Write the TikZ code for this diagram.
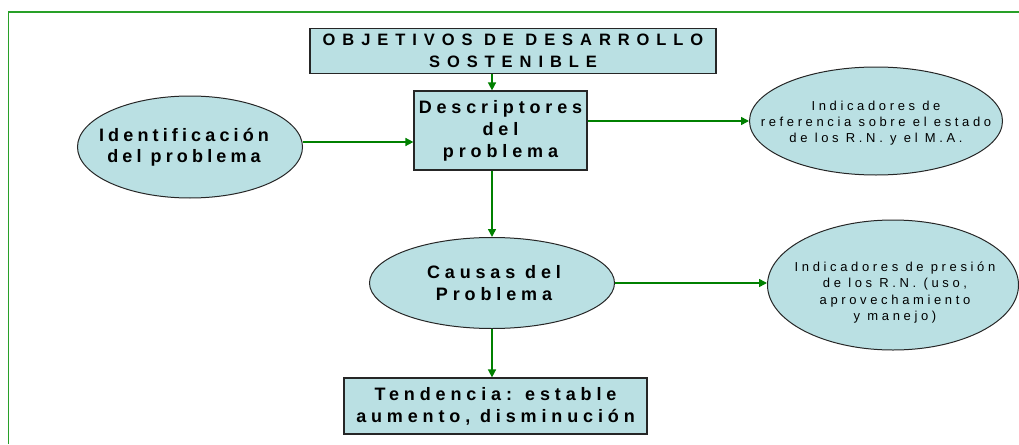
\documentclass[tikz,border=0pt]{standalone}
\usepackage{fontspec}
\setmainfont{Liberation Sans}
\newfontface\bsp[LetterSpace=27]{Liberation Sans Bold}
\newfontface\isp[LetterSpace=23]{Liberation Sans Bold}
\newfontface\tsp[LetterSpace=42]{Liberation Sans Bold}
\newfontface\rsp[LetterSpace=28]{Liberation Sans}
\usetikzlibrary{arrows.meta,shapes.geometric}
\definecolor{boxfill}{RGB}{186,224,227}
\definecolor{arrgreen}{RGB}{0,128,0}
\definecolor{framegreen}{RGB}{40,160,40}
\begin{document}
\begin{tikzpicture}[x=1pt,y=-1pt,
  box/.style={draw=black!85,line width=1.2pt,fill=boxfill,rectangle,inner sep=0pt},
  ell/.style={draw=black!85,line width=1pt,fill=boxfill,ellipse,inner sep=0pt},
  btxt/.style={align=center,font=\bsp\fontsize{18pt}{22pt}\selectfont,inner sep=0pt},
  itxt/.style={align=center,font=\isp\fontsize{18pt}{21.5pt}\selectfont,inner sep=0pt},
  ttxt/.style={align=center,font=\tsp\fontsize{16.5pt}{22pt}\selectfont,inner sep=0pt},
  rtxt/.style={align=center,font=\rsp\fontsize{13pt}{16.3pt}\selectfont,inner sep=0pt},
  arr/.style={draw=arrgreen,line width=1.5pt,-{Triangle[length=8pt,width=8pt]}}]
\useasboundingbox (0,0) rectangle (1019,444);
\draw[framegreen,line width=1.5pt] (8.5,444) -- (8.5,12) -- (1019,12);

\node[box,minimum width=406pt,minimum height=45pt,ttxt] (top) at (513,51)
  {OBJETIVOS DE DESARROLLO\\SOSTENIBLE};
\node[box,minimum width=173pt,minimum height=79pt,btxt] (desc) at (500.5,130.5)
  {Descriptores\\del\\problema};
\node[box,minimum width=303pt,minimum height=56pt,btxt] (tend) at (495.5,406)
  {Tendencia: estable\\aumento, disminución};

\node[ell,minimum width=225pt,minimum height=102pt] (ident) at (190,147) {};
\node[itxt] (identt) at (184,147.5) {Identificación\\del problema};

\node[ell,minimum width=253pt,minimum height=108pt] (e1) at (876,121) {};
\node[rtxt] (e1t) at (876,123) {Indicadores de\\referencia sobre el estado\\de los R.N. y el M.A.};

\node[ell,minimum width=245pt,minimum height=91pt] (causas) at (492,283) {};
\node[btxt] (causast) at (494,283) {Causas del\\Problema};

\node[ell,minimum width=251pt,minimum height=130pt] (e2) at (893,285) {};
\node[rtxt] (e2t) at (895,292.5) {Indicadores de presión\\de los R.N. (uso,\\aprovechamiento\\y manejo)};

\draw[arr] (top.south -| causas.north) -- (desc.north -| causas.north);
\draw[arr] ([yshift=5pt]ident.east) -- ([yshift=5pt]ident.east -| desc.west);
\draw[arr] (desc.east |- e1.west) -- (e1.west);
\draw[arr] (desc.south -| causas.north) -- (causas.north);
\draw[arr] (causas.east) -- (causas.east -| e2.west);
\draw[arr] (causas.south) -- (causas.south |- tend.north);
\end{tikzpicture}
\end{document}
